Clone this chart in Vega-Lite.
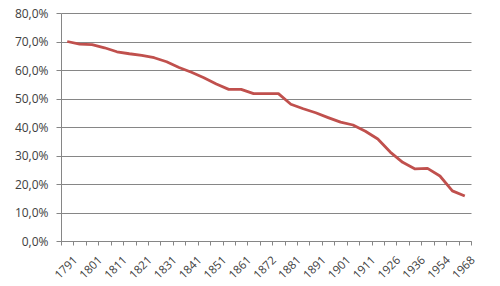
{
  "$schema": "https://vega.github.io/schema/vega-lite/v6.json",
  "autosize": "none",
  "width": 410,
  "height": 228,
  "padding": {"left": 61, "top": 13, "right": 29, "bottom": 45},
  "background": "white",
  "config": {"view": {"stroke": null}, "font": "Open Sans"},
  "data": {"values": [
    {"year": "1791", "share": 70.0},
    {"year": "1796", "share": 69.1},
    {"year": "1801", "share": 68.9},
    {"year": "1806", "share": 67.8},
    {"year": "1811", "share": 66.4},
    {"year": "1816", "share": 65.7},
    {"year": "1821", "share": 65.1},
    {"year": "1826", "share": 64.3},
    {"year": "1831", "share": 62.9},
    {"year": "1836", "share": 60.9},
    {"year": "1841", "share": 59.2},
    {"year": "1846", "share": 57.3},
    {"year": "1851", "share": 55.1},
    {"year": "1856", "share": 53.2},
    {"year": "1861", "share": 53.2},
    {"year": "1866", "share": 51.7},
    {"year": "1872", "share": 51.7},
    {"year": "1876", "share": 51.7},
    {"year": "1881", "share": 48.0},
    {"year": "1886", "share": 46.4},
    {"year": "1891", "share": 45.0},
    {"year": "1896", "share": 43.3},
    {"year": "1901", "share": 41.7},
    {"year": "1906", "share": 40.7},
    {"year": "1911", "share": 38.5},
    {"year": "1921", "share": 35.8},
    {"year": "1926", "share": 31.2},
    {"year": "1931", "share": 27.6},
    {"year": "1936", "share": 25.3},
    {"year": "1946", "share": 25.5},
    {"year": "1954", "share": 22.8},
    {"year": "1962", "share": 17.6},
    {"year": "1968", "share": 15.8}
  ]},
  "mark": {"type": "line", "color": "#c0504d", "strokeWidth": 2.8, "strokeJoin": "round"},
  "encoding": {
    "x": {
      "field": "year", "type": "ordinal",
      "scale": {"type": "band", "paddingInner": 0, "paddingOuter": 0},
      "axis": {
        "title": null,
        "tickBand": "extent",
        "grid": false,
        "domainColor": "#868686",
        "tickColor": "#868686",
        "tickSize": 4,
        "labelAngle": -45,
        "labelFontSize": 11.5,
        "labelColor": "#404040",
        "labelOverlap": false,
        "labelPadding": 9,
        "labelOffset": 4,
        "labelExpr": "indexof(['1796','1806','1816','1826','1836','1846','1856','1866','1876','1886','1896','1906','1921','1931','1946','1962'], datum.label) >= 0 ? '' : datum.label"
      }
    },
    "y": {
      "field": "share", "type": "quantitative",
      "scale": {"domain": [0, 80], "nice": false},
      "axis": {
        "title": null,
        "values": [0, 10, 20, 30, 40, 50, 60, 70, 80],
        "labelExpr": "replace(format(datum.value, '.1f'), '.', ',') + '%'",
        "gridColor": "#868686",
        "gridWidth": 1,
        "domainColor": "#868686",
        "tickColor": "#868686",
        "tickSize": 5,
        "labelPadding": 8,
        "labelFontSize": 12,
        "labelColor": "#404040"
      }
    }
  }
}
